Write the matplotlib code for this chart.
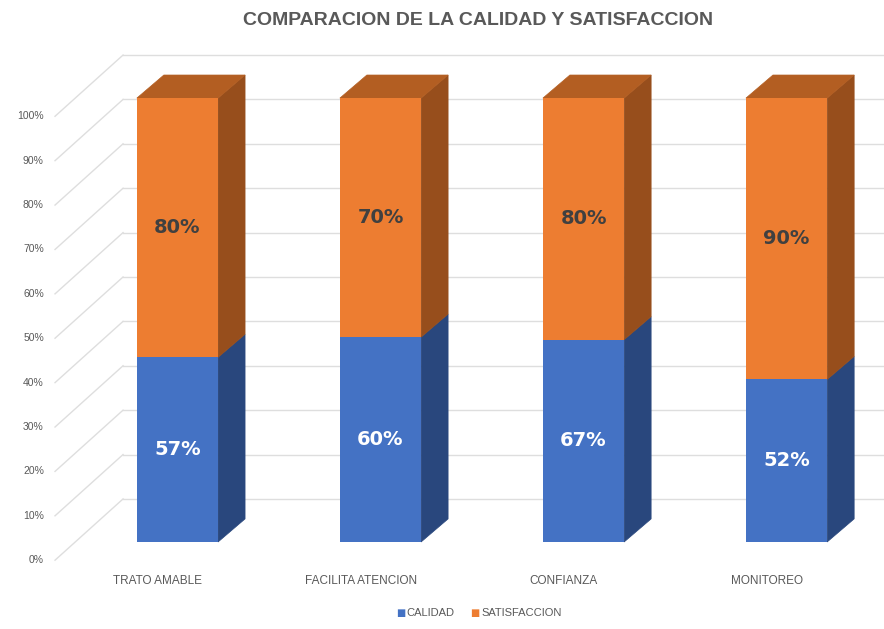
import numpy as np
import matplotlib.pyplot as plt
from matplotlib.patches import Polygon

categories = ['TRATO AMABLE', 'FACILITA ATENCION', 'CONFIANZA', 'MONITOREO']
calidad = [57, 60, 67, 52]
satisfaccion = [80, 70, 80, 90]
ticks = [0, 10, 20, 30, 40, 50, 60, 70, 80, 90, 100]

BLUE = '#4472C4'
BLUE_SIDE = '#29477D'
ORANGE = '#ED7D31'
ORANGE_SIDE = '#974E1C'
ORANGE_TOP = '#B35E22'
GRID = '#DEDEDE'
TEXT = '#595959'

NARROW = ['Liberation Sans', 'DejaVu Sans']

# oblique 3D offsets in data units (x: category step, y: 100%)
BAR_W = 0.40
BAR_DX, BAR_DY = 0.133, 0.052       # bar depth
FRONT_DX, FRONT_DY = -0.098, -0.041  # label plane relative to bar front
BACK_DX, BACK_DY = 0.237, 0.097      # back wall relative to bar front

cal = np.array(calidad, dtype=float)
sat = np.array(satisfaccion, dtype=float)
total = cal + sat
frac_cal = cal / total
x = np.arange(len(categories))

fig = plt.figure(figsize=(8.84, 6.29), dpi=100)
ax = fig.add_axes([0, 0, 1, 1])
ax.set_xlim(-0.874, 3.480)
ax.set_ylim(-0.196, 1.221)
ax.axis('off')

# walls: diagonal on the left side, horizontal along the back
x_front_left = -0.603
x_back_left = x_front_left + (BACK_DX - FRONT_DX)
for t in ticks:
    v = t / 100
    ax.plot([x_front_left, x_back_left], [v + FRONT_DY, v + BACK_DY],
            color=GRID, lw=1, zorder=1)
    ax.plot([x_back_left, 3.6], [v + BACK_DY, v + BACK_DY],
            color=GRID, lw=1, zorder=1)
    ax.text(-0.658, v + FRONT_DY, f'{t}%', ha='right', va='center',
            fontsize=7.5, color=TEXT, family=NARROW)

def side_face(xr, y0, y1, color):
    pts = [(xr, y0), (xr + BAR_DX, y0 + BAR_DY),
           (xr + BAR_DX, y1 + BAR_DY), (xr, y1)]
    ax.add_patch(Polygon(pts, closed=True, facecolor=color,
                         edgecolor=color, lw=0.5, zorder=3))

for i in x:
    xl, xr = i - BAR_W / 2, i + BAR_W / 2
    side_face(xr, 0, frac_cal[i], BLUE_SIDE)
    side_face(xr, frac_cal[i], 1, ORANGE_SIDE)
    top = [(xl, 1), (xr, 1), (xr + BAR_DX, 1 + BAR_DY), (xl + BAR_DX, 1 + BAR_DY)]
    ax.add_patch(Polygon(top, closed=True, facecolor=ORANGE_TOP,
                         edgecolor=ORANGE_TOP, lw=0.5, zorder=3))

ax.bar(x, frac_cal, width=BAR_W, color=BLUE, zorder=4)
ax.bar(x, 1 - frac_cal, bottom=frac_cal, width=BAR_W, color=ORANGE, zorder=4)

for i in x:
    ax.text(i, frac_cal[i] / 2, f'{calidad[i]}%', ha='center', va='center',
            fontsize=14, fontweight='bold', color='white', zorder=5)
    ax.text(i, (1 + frac_cal[i]) / 2, f'{satisfaccion[i]}%', ha='center',
            va='center', fontsize=14, fontweight='bold', color='#404040', zorder=5)
    ax.text(i + FRONT_DX, -0.087, categories[i], ha='center', va='center',
            fontsize=8.5, color=TEXT, family=NARROW)

fig.text(0.541, 0.968, 'COMPARACION DE LA CALIDAD Y SATISFACCION', ha='center',
         va='center', fontsize=14, fontweight='bold', color=TEXT, family=NARROW)

# legend
fig.text(0.453, 0.025, '■', color=BLUE, ha='center', va='center', fontsize=7)
fig.text(0.460, 0.025, 'CALIDAD', color=TEXT, ha='left', va='center',
         fontsize=8, family=NARROW)
fig.text(0.537, 0.025, '■', color=ORANGE, ha='center', va='center', fontsize=7)
fig.text(0.545, 0.025, 'SATISFACCION', color=TEXT, ha='left', va='center',
         fontsize=8, family=NARROW)

fig.savefig('out.png', dpi=100)
